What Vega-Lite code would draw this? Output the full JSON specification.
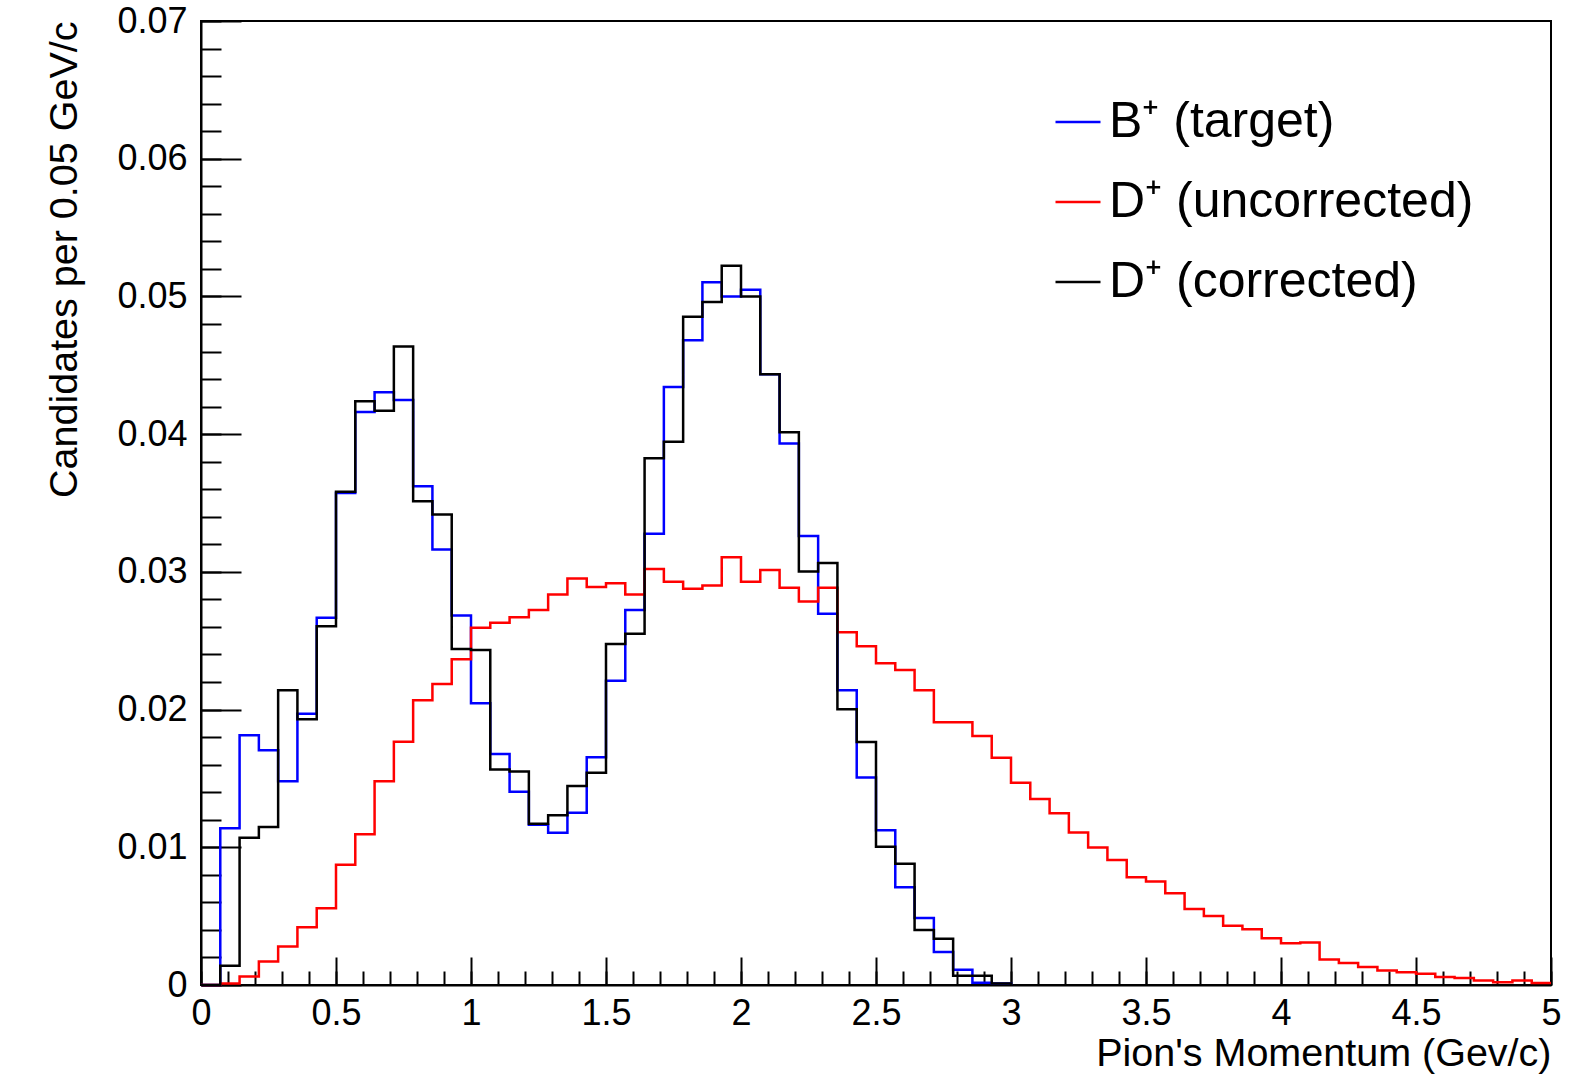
{
  "$schema": "https://vega.github.io/schema/vega-lite/v6.json",
  "width": 1350,
  "height": 964,
  "autosize": {"type": "none"},
  "padding": {"left": 201, "top": 21, "right": 22, "bottom": 97},
  "background": "white",
  "config": {
    "view": {"stroke": "black", "strokeWidth": 2},
    "font": "Liberation Sans",
    "axis": {
      "grid": false,
      "labelFont": "Liberation Sans",
      "titleFont": "Liberation Sans",
      "labelColor": "black",
      "titleColor": "black",
      "tickColor": "black",
      "domainColor": "black",
      "labelFontSize": 36,
      "titleFontSize": 39.5,
      "titleFontWeight": "normal",
      "labelOverlap": false,
      "labelFlush": false,
      "labelBound": false
    }
  },
  "data": {
    "values": [
      {"s": "B⁺ (target)", "x": 0, "y": 0},
      {"s": "B⁺ (target)", "x": 0.0714, "y": 0.01138},
      {"s": "B⁺ (target)", "x": 0.1429, "y": 0.01814},
      {"s": "B⁺ (target)", "x": 0.2143, "y": 0.01705},
      {"s": "B⁺ (target)", "x": 0.2857, "y": 0.01479},
      {"s": "B⁺ (target)", "x": 0.3571, "y": 0.01969},
      {"s": "B⁺ (target)", "x": 0.4286, "y": 0.02667},
      {"s": "B⁺ (target)", "x": 0.5, "y": 0.03572},
      {"s": "B⁺ (target)", "x": 0.5714, "y": 0.04161},
      {"s": "B⁺ (target)", "x": 0.6429, "y": 0.04304},
      {"s": "B⁺ (target)", "x": 0.7143, "y": 0.04248},
      {"s": "B⁺ (target)", "x": 0.7857, "y": 0.03622},
      {"s": "B⁺ (target)", "x": 0.8571, "y": 0.03163},
      {"s": "B⁺ (target)", "x": 0.9286, "y": 0.02683},
      {"s": "B⁺ (target)", "x": 1, "y": 0.02045},
      {"s": "B⁺ (target)", "x": 1.0714, "y": 0.01678},
      {"s": "B⁺ (target)", "x": 1.1429, "y": 0.01404},
      {"s": "B⁺ (target)", "x": 1.2143, "y": 0.01164},
      {"s": "B⁺ (target)", "x": 1.2857, "y": 0.01106},
      {"s": "B⁺ (target)", "x": 1.3571, "y": 0.0125},
      {"s": "B⁺ (target)", "x": 1.4286, "y": 0.01654},
      {"s": "B⁺ (target)", "x": 1.5, "y": 0.02209},
      {"s": "B⁺ (target)", "x": 1.5714, "y": 0.02723},
      {"s": "B⁺ (target)", "x": 1.6429, "y": 0.03277},
      {"s": "B⁺ (target)", "x": 1.7143, "y": 0.04342},
      {"s": "B⁺ (target)", "x": 1.7857, "y": 0.04682},
      {"s": "B⁺ (target)", "x": 1.8571, "y": 0.05103},
      {"s": "B⁺ (target)", "x": 1.9286, "y": 0.05},
      {"s": "B⁺ (target)", "x": 2, "y": 0.05048},
      {"s": "B⁺ (target)", "x": 2.0714, "y": 0.04435},
      {"s": "B⁺ (target)", "x": 2.1429, "y": 0.03932},
      {"s": "B⁺ (target)", "x": 2.2143, "y": 0.0326},
      {"s": "B⁺ (target)", "x": 2.2857, "y": 0.02695},
      {"s": "B⁺ (target)", "x": 2.3571, "y": 0.0214},
      {"s": "B⁺ (target)", "x": 2.4286, "y": 0.01507},
      {"s": "B⁺ (target)", "x": 2.5, "y": 0.01123},
      {"s": "B⁺ (target)", "x": 2.5714, "y": 0.00709},
      {"s": "B⁺ (target)", "x": 2.6429, "y": 0.00486},
      {"s": "B⁺ (target)", "x": 2.7143, "y": 0.0024},
      {"s": "B⁺ (target)", "x": 2.7857, "y": 0.0011},
      {"s": "B⁺ (target)", "x": 2.8571, "y": 0.00017},
      {"s": "B⁺ (target)", "x": 2.9286, "y": 0.0001},
      {"s": "B⁺ (target)", "x": 3, "y": 0},

      {"s": "D⁺ (uncorrected)", "x": 0, "y": 0},
      {"s": "D⁺ (uncorrected)", "x": 0.0714, "y": 0.0001},
      {"s": "D⁺ (uncorrected)", "x": 0.1429, "y": 0.00062},
      {"s": "D⁺ (uncorrected)", "x": 0.2143, "y": 0.0017},
      {"s": "D⁺ (uncorrected)", "x": 0.2857, "y": 0.00279},
      {"s": "D⁺ (uncorrected)", "x": 0.3571, "y": 0.00419},
      {"s": "D⁺ (uncorrected)", "x": 0.4286, "y": 0.00558},
      {"s": "D⁺ (uncorrected)", "x": 0.5, "y": 0.00874},
      {"s": "D⁺ (uncorrected)", "x": 0.5714, "y": 0.01095},
      {"s": "D⁺ (uncorrected)", "x": 0.6429, "y": 0.01479},
      {"s": "D⁺ (uncorrected)", "x": 0.7143, "y": 0.01767},
      {"s": "D⁺ (uncorrected)", "x": 0.7857, "y": 0.02068},
      {"s": "D⁺ (uncorrected)", "x": 0.8571, "y": 0.02186},
      {"s": "D⁺ (uncorrected)", "x": 0.9286, "y": 0.02366},
      {"s": "D⁺ (uncorrected)", "x": 1, "y": 0.02595},
      {"s": "D⁺ (uncorrected)", "x": 1.0714, "y": 0.0263},
      {"s": "D⁺ (uncorrected)", "x": 1.1429, "y": 0.02671},
      {"s": "D⁺ (uncorrected)", "x": 1.2143, "y": 0.02723},
      {"s": "D⁺ (uncorrected)", "x": 1.2857, "y": 0.02836},
      {"s": "D⁺ (uncorrected)", "x": 1.3571, "y": 0.02952},
      {"s": "D⁺ (uncorrected)", "x": 1.4286, "y": 0.0289},
      {"s": "D⁺ (uncorrected)", "x": 1.5, "y": 0.02918},
      {"s": "D⁺ (uncorrected)", "x": 1.5714, "y": 0.02836},
      {"s": "D⁺ (uncorrected)", "x": 1.6429, "y": 0.0302},
      {"s": "D⁺ (uncorrected)", "x": 1.7143, "y": 0.02928},
      {"s": "D⁺ (uncorrected)", "x": 1.7857, "y": 0.02877},
      {"s": "D⁺ (uncorrected)", "x": 1.8571, "y": 0.02901},
      {"s": "D⁺ (uncorrected)", "x": 1.9286, "y": 0.03106},
      {"s": "D⁺ (uncorrected)", "x": 2, "y": 0.02928},
      {"s": "D⁺ (uncorrected)", "x": 2.0714, "y": 0.03014},
      {"s": "D⁺ (uncorrected)", "x": 2.1429, "y": 0.02884},
      {"s": "D⁺ (uncorrected)", "x": 2.2143, "y": 0.02784},
      {"s": "D⁺ (uncorrected)", "x": 2.2857, "y": 0.02884},
      {"s": "D⁺ (uncorrected)", "x": 2.3571, "y": 0.02562},
      {"s": "D⁺ (uncorrected)", "x": 2.4286, "y": 0.02459},
      {"s": "D⁺ (uncorrected)", "x": 2.5, "y": 0.02336},
      {"s": "D⁺ (uncorrected)", "x": 2.5714, "y": 0.02288},
      {"s": "D⁺ (uncorrected)", "x": 2.6429, "y": 0.0214},
      {"s": "D⁺ (uncorrected)", "x": 2.7143, "y": 0.01908},
      {"s": "D⁺ (uncorrected)", "x": 2.7857, "y": 0.01908},
      {"s": "D⁺ (uncorrected)", "x": 2.8571, "y": 0.01808},
      {"s": "D⁺ (uncorrected)", "x": 2.9286, "y": 0.01651},
      {"s": "D⁺ (uncorrected)", "x": 3, "y": 0.01468},
      {"s": "D⁺ (uncorrected)", "x": 3.0714, "y": 0.01351},
      {"s": "D⁺ (uncorrected)", "x": 3.1429, "y": 0.01248},
      {"s": "D⁺ (uncorrected)", "x": 3.2143, "y": 0.01107},
      {"s": "D⁺ (uncorrected)", "x": 3.2857, "y": 0.00998},
      {"s": "D⁺ (uncorrected)", "x": 3.3571, "y": 0.00908},
      {"s": "D⁺ (uncorrected)", "x": 3.4286, "y": 0.00782},
      {"s": "D⁺ (uncorrected)", "x": 3.5, "y": 0.00751},
      {"s": "D⁺ (uncorrected)", "x": 3.5714, "y": 0.00666},
      {"s": "D⁺ (uncorrected)", "x": 3.6429, "y": 0.00552},
      {"s": "D⁺ (uncorrected)", "x": 3.7143, "y": 0.00501},
      {"s": "D⁺ (uncorrected)", "x": 3.7857, "y": 0.00431},
      {"s": "D⁺ (uncorrected)", "x": 3.8571, "y": 0.00405},
      {"s": "D⁺ (uncorrected)", "x": 3.9286, "y": 0.00339},
      {"s": "D⁺ (uncorrected)", "x": 4, "y": 0.00303},
      {"s": "D⁺ (uncorrected)", "x": 4.0714, "y": 0.00308},
      {"s": "D⁺ (uncorrected)", "x": 4.1429, "y": 0.00186},
      {"s": "D⁺ (uncorrected)", "x": 4.2143, "y": 0.00159},
      {"s": "D⁺ (uncorrected)", "x": 4.2857, "y": 0.0013},
      {"s": "D⁺ (uncorrected)", "x": 4.3571, "y": 0.00105},
      {"s": "D⁺ (uncorrected)", "x": 4.4286, "y": 0.00093},
      {"s": "D⁺ (uncorrected)", "x": 4.5, "y": 0.00081},
      {"s": "D⁺ (uncorrected)", "x": 4.5714, "y": 0.00059},
      {"s": "D⁺ (uncorrected)", "x": 4.6429, "y": 0.00051},
      {"s": "D⁺ (uncorrected)", "x": 4.7143, "y": 0.00032},
      {"s": "D⁺ (uncorrected)", "x": 4.7857, "y": 0.0002},
      {"s": "D⁺ (uncorrected)", "x": 4.8571, "y": 0.00032},
      {"s": "D⁺ (uncorrected)", "x": 4.9286, "y": 0.00015},
      {"s": "D⁺ (uncorrected)", "x": 5, "y": 0.00015},

      {"s": "D⁺ (corrected)", "x": 0, "y": 0},
      {"s": "D⁺ (corrected)", "x": 0.0714, "y": 0.0014},
      {"s": "D⁺ (corrected)", "x": 0.1429, "y": 0.0107},
      {"s": "D⁺ (corrected)", "x": 0.2143, "y": 0.01147},
      {"s": "D⁺ (corrected)", "x": 0.2857, "y": 0.0214},
      {"s": "D⁺ (corrected)", "x": 0.3571, "y": 0.01929},
      {"s": "D⁺ (corrected)", "x": 0.4286, "y": 0.02605},
      {"s": "D⁺ (corrected)", "x": 0.5, "y": 0.03581},
      {"s": "D⁺ (corrected)", "x": 0.5714, "y": 0.04239},
      {"s": "D⁺ (corrected)", "x": 0.6429, "y": 0.0417},
      {"s": "D⁺ (corrected)", "x": 0.7143, "y": 0.04636},
      {"s": "D⁺ (corrected)", "x": 0.7857, "y": 0.03513},
      {"s": "D⁺ (corrected)", "x": 0.8571, "y": 0.03417},
      {"s": "D⁺ (corrected)", "x": 0.9286, "y": 0.0244},
      {"s": "D⁺ (corrected)", "x": 1, "y": 0.02432},
      {"s": "D⁺ (corrected)", "x": 1.0714, "y": 0.01565},
      {"s": "D⁺ (corrected)", "x": 1.1429, "y": 0.01551},
      {"s": "D⁺ (corrected)", "x": 1.2143, "y": 0.01171},
      {"s": "D⁺ (corrected)", "x": 1.2857, "y": 0.01233},
      {"s": "D⁺ (corrected)", "x": 1.3571, "y": 0.01445},
      {"s": "D⁺ (corrected)", "x": 1.4286, "y": 0.01541},
      {"s": "D⁺ (corrected)", "x": 1.5, "y": 0.02476},
      {"s": "D⁺ (corrected)", "x": 1.5714, "y": 0.02551},
      {"s": "D⁺ (corrected)", "x": 1.6429, "y": 0.03825},
      {"s": "D⁺ (corrected)", "x": 1.7143, "y": 0.03945},
      {"s": "D⁺ (corrected)", "x": 1.7857, "y": 0.04853},
      {"s": "D⁺ (corrected)", "x": 1.8571, "y": 0.04959},
      {"s": "D⁺ (corrected)", "x": 1.9286, "y": 0.05223},
      {"s": "D⁺ (corrected)", "x": 2, "y": 0.05},
      {"s": "D⁺ (corrected)", "x": 2.0714, "y": 0.04435},
      {"s": "D⁺ (corrected)", "x": 2.1429, "y": 0.04014},
      {"s": "D⁺ (corrected)", "x": 2.2143, "y": 0.03003},
      {"s": "D⁺ (corrected)", "x": 2.2857, "y": 0.03065},
      {"s": "D⁺ (corrected)", "x": 2.3571, "y": 0.02003},
      {"s": "D⁺ (corrected)", "x": 2.4286, "y": 0.01764},
      {"s": "D⁺ (corrected)", "x": 2.5, "y": 0.01003},
      {"s": "D⁺ (corrected)", "x": 2.5714, "y": 0.0088},
      {"s": "D⁺ (corrected)", "x": 2.6429, "y": 0.004},
      {"s": "D⁺ (corrected)", "x": 2.7143, "y": 0.00336},
      {"s": "D⁺ (corrected)", "x": 2.7857, "y": 0.00068},
      {"s": "D⁺ (corrected)", "x": 2.8571, "y": 0.00068},
      {"s": "D⁺ (corrected)", "x": 2.9286, "y": 0.0001},
      {"s": "D⁺ (corrected)", "x": 3, "y": 0}
    ]
  },
  "layer": [
    {
      "transform": [{"filter": "datum.s === 'B⁺ (target)'"}],
      "mark": {"type": "line", "interpolate": "step-after", "strokeWidth": 2.5},
      "encoding": {
        "x": {
          "field": "x", "type": "quantitative",
          "scale": {"domain": [0, 5], "nice": false, "zero": false},
          "axis": {
            "orient": "bottom",
            "values": [0, 0.5, 1, 1.5, 2, 2.5, 3, 3.5, 4, 4.5, 5],
            "format": ".1~f",
            "ticks": false,
            "domain": true,
            "domainWidth": 2,
            "labelPadding": 11,
            "title": "Pion's Momentum (Gev/c)",
            "titleAnchor": "end",
            "titleAlign": "right",
            "titlePadding": 3
          }
        },
        "y": {
          "field": "y", "type": "quantitative",
          "scale": {"domain": [0, 0.07], "nice": false},
          "axis": {
            "orient": "left",
            "values": [0, 0.01, 0.02, 0.03, 0.04, 0.05, 0.06, 0.07],
            "format": ".2~f",
            "ticks": false,
            "domain": true,
            "domainWidth": 2,
            "labelPadding": 14,
            "title": "Candidates per 0.05 GeV/c",
            "titleAnchor": "end",
            "titleAlign": "right",
            "titlePadding": 32
          }
        },
        "color": {
          "field": "s", "type": "nominal",
          "scale": {"domain": ["B⁺ (target)", "D⁺ (uncorrected)", "D⁺ (corrected)"], "range": ["#0000ff", "#ff0000", "#000000"]},
          "legend": {"orient": "none", "legendX": 852, "legendY": 76, "title": null, "symbolType": "stroke", "symbolSize": 2025, "symbolStrokeWidth": 2.5, "labelFontSize": 50, "labelFont": "Liberation Sans", "labelColor": "black", "labelOffset": 6, "rowPadding": 30, "padding": 0, "labelLimit": 900}
        }
      }
    },
    {
      "transform": [{"filter": "datum.s === 'D⁺ (uncorrected)'"}],
      "mark": {"type": "line", "interpolate": "step-after", "strokeWidth": 2.5},
      "encoding": {
        "x": {
          "field": "x", "type": "quantitative",
          "scale": {"domain": [0, 5], "nice": false, "zero": false},
          "axis": {
            "orient": "bottom",
            "values": [0, 0.1, 0.2, 0.3, 0.4, 0.5, 0.6, 0.7, 0.8, 0.9, 1, 1.1, 1.2, 1.3, 1.4, 1.5, 1.6, 1.7, 1.8, 1.9, 2, 2.1, 2.2, 2.3, 2.4, 2.5, 2.6, 2.7, 2.8, 2.9, 3, 3.1, 3.2, 3.3, 3.4, 3.5, 3.6, 3.7, 3.8, 3.9, 4, 4.1, 4.2, 4.3, 4.4, 4.5, 4.6, 4.7, 4.8, 4.9, 5],
            "labels": false, "domain": false, "tickSize": -14, "tickWidth": 2, "title": null
          }
        },
        "y": {
          "field": "y", "type": "quantitative",
          "scale": {"domain": [0, 0.07], "nice": false},
          "axis": {
            "orient": "left",
            "values": [0, 0.002, 0.004, 0.006, 0.008, 0.01, 0.012, 0.014, 0.016, 0.018, 0.02, 0.022, 0.024, 0.026, 0.028, 0.03, 0.032, 0.034, 0.036, 0.038, 0.04, 0.042, 0.044, 0.046, 0.048, 0.05, 0.052, 0.054, 0.056, 0.058, 0.06, 0.062, 0.064, 0.066, 0.068, 0.07],
            "labels": false, "domain": false, "tickSize": -20, "tickWidth": 2, "title": null
          }
        },
        "color": {
          "field": "s", "type": "nominal",
          "scale": {"domain": ["B⁺ (target)", "D⁺ (uncorrected)", "D⁺ (corrected)"], "range": ["#0000ff", "#ff0000", "#000000"]},
          "legend": {"orient": "none", "legendX": 852, "legendY": 76, "title": null, "symbolType": "stroke", "symbolSize": 2025, "symbolStrokeWidth": 2.5, "labelFontSize": 50, "labelFont": "Liberation Sans", "labelColor": "black", "labelOffset": 6, "rowPadding": 30, "padding": 0, "labelLimit": 900}
        }
      }
    },
    {
      "transform": [{"filter": "datum.s === 'D⁺ (corrected)'"}],
      "mark": {"type": "line", "interpolate": "step-after", "strokeWidth": 2.5},
      "encoding": {
        "x": {
          "field": "x", "type": "quantitative",
          "scale": {"domain": [0, 5], "nice": false, "zero": false},
          "axis": {
            "orient": "bottom",
            "values": [0, 0.5, 1, 1.5, 2, 2.5, 3, 3.5, 4, 4.5, 5],
            "labels": false, "domain": false, "tickSize": -28, "tickWidth": 2, "title": null
          }
        },
        "y": {
          "field": "y", "type": "quantitative",
          "scale": {"domain": [0, 0.07], "nice": false},
          "axis": {
            "orient": "left",
            "values": [0, 0.01, 0.02, 0.03, 0.04, 0.05, 0.06, 0.07],
            "labels": false, "domain": false, "tickSize": -40, "tickWidth": 2, "title": null
          }
        },
        "color": {
          "field": "s", "type": "nominal",
          "scale": {"domain": ["B⁺ (target)", "D⁺ (uncorrected)", "D⁺ (corrected)"], "range": ["#0000ff", "#ff0000", "#000000"]},
          "legend": {"orient": "none", "legendX": 852, "legendY": 76, "title": null, "symbolType": "stroke", "symbolSize": 2025, "symbolStrokeWidth": 2.5, "labelFontSize": 50, "labelFont": "Liberation Sans", "labelColor": "black", "labelOffset": 6, "rowPadding": 30, "padding": 0, "labelLimit": 900}
        }
      }
    }
  ],
  "resolve": {"axis": {"x": "independent", "y": "independent"}}
}
